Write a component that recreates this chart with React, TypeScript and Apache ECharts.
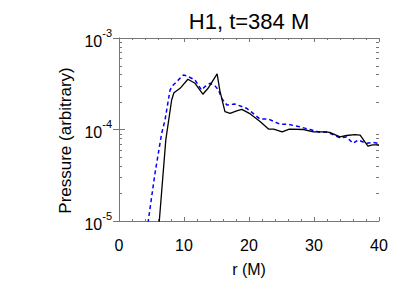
import React, { useEffect, useRef } from "react";
import * as echarts from "echarts";

const titleText = "H1, t=384 M";
const xName = "r (M)";
const yName = "Pressure (arbitrary)";
const xTicks = [0, 10, 20, 30, 40];
const yMinorTicks = [2e-5, 3e-5, 4e-5, 5e-5, 6e-5, 7e-5, 8e-5, 9e-5, 2e-4, 3e-4, 4e-4, 5e-4, 6e-4, 7e-4, 8e-4, 9e-4];

const rBlack = [6.0, 6.2, 7.2, 8.1, 8.45, 9.4, 10.6, 11.7, 12.9, 13.7, 15.1, 15.5, 16.3, 17.1, 18.1, 18.9, 20.2, 21.7, 23.0, 23.8, 25.1, 26.2, 28.4, 29.9, 31.7, 32.4, 34.0, 35.0, 36.3, 37.1, 37.8, 38.3, 39.0, 39.6, 40.0];
const pBlack = [8e-6, 1e-5, 7.7e-5, 2.1e-4, 2.52e-4, 2.82e-4, 3.54e-4, 3.2e-4, 2.43e-4, 2.82e-4, 4.05e-4, 2.7e-4, 1.57e-4, 1.5e-4, 1.6e-4, 1.66e-4, 1.48e-4, 1.22e-4, 1.01e-4, 1.01e-4, 9.4e-5, 1.01e-4, 1.0e-4, 9.4e-5, 9.4e-5, 9.3e-5, 8.3e-5, 8.6e-5, 8.8e-5, 8.7e-5, 7.36e-5, 6.58e-5, 6.8e-5, 6.8e-5, 6.7e-5];

const rBlue = [4.3, 4.5, 5.03, 5.54, 6.05, 6.57, 7.08, 7.85, 8.35, 9.9, 10.4, 11.7, 12.7, 13.2, 14.0, 14.8, 15.3, 15.8, 16.6, 17.8, 19.6, 20.2, 21.7, 23.0, 24.8, 26.0, 27.8, 29.4, 30.9, 32.0, 34.0, 35.0, 36.0, 36.8, 38.1, 39.1, 39.9];
const pBlue = [8e-6, 1e-5, 1.85e-5, 3.32e-5, 5.5e-5, 9.1e-5, 1.27e-4, 2.7e-4, 3.06e-4, 3.94e-4, 3.87e-4, 3.47e-4, 2.7e-4, 2.94e-4, 3.2e-4, 2.98e-4, 2.7e-4, 2.19e-4, 1.85e-4, 1.9e-4, 1.71e-4, 1.59e-4, 1.3e-4, 1.3e-4, 1.14e-4, 1.14e-4, 1.07e-4, 1.0e-4, 9.3e-5, 9.4e-5, 8.1e-5, 8.3e-5, 7.06e-5, 7.67e-5, 7.06e-5, 7.2e-5, 7.06e-5];

const FONT = "'Liberation Sans', Arial, Helvetica, sans-serif";
const AXIS_COLOR = "#777";

export default function App() {
  const ref = useRef<HTMLDivElement>(null);
  useEffect(() => {
    if (!ref.current) return;
    const chart = echarts.init(ref.current, null, { renderer: "svg" });
    const blackData = rBlack.map((r, i) => [r, pBlack[i]]);
    const blueData = rBlue.map((r, i) => [r, pBlue[i]]);
    const commonX = {
      type: "value" as const,
      min: xTicks[0],
      max: xTicks[xTicks.length - 1],
      interval: 10,
      axisLine: { show: true, lineStyle: { color: AXIS_COLOR, width: 1 } },
      axisTick: { show: true, inside: true, length: 4, lineStyle: { color: AXIS_COLOR } },
      minorTick: { show: true, splitNumber: 5, length: 2, lineStyle: { color: AXIS_COLOR } },
      splitLine: { show: false },
      minorSplitLine: { show: false },
    };
    const commonY = {
      type: "log" as const,
      logBase: 10,
      min: 1e-5,
      max: 1e-3,
      axisLine: { show: true, lineStyle: { color: AXIS_COLOR, width: 1 } },
      axisTick: { show: true, inside: true, length: 6, lineStyle: { color: AXIS_COLOR } },
      splitLine: { show: false },
    };
    chart.setOption({
      animation: false,
      backgroundColor: "#fff",
      grid: { left: 119, top: 38, width: 260, height: 183, containLabel: false },
      xAxis: [
        {
          ...commonX,
          position: "bottom",
          name: xName,
          nameLocation: "middle",
          nameGap: 40,
          nameTextStyle: { fontFamily: FONT, fontSize: 16, color: "#000" },
          axisLabel: { show: true, margin: 16, fontFamily: FONT, fontSize: 16, color: "#000" },
        },
        {
          ...commonX,
          position: "top",
          name: titleText,
          nameLocation: "middle",
          nameGap: 6,
          nameTextStyle: { fontFamily: FONT, fontSize: 22, color: "#000" },
          axisLabel: { show: false },
        },
      ],
      yAxis: [
        {
          ...commonY,
          position: "left",
          name: yName,
          nameLocation: "middle",
          nameGap: 39,
          nameRotate: 90,
          nameTextStyle: { fontFamily: FONT, fontSize: 17, color: "#000", padding: [0, 22, 0, 0] },
          axisLabel: {
            show: true,
            margin: 7,
            formatter: (v: number) => "{a|10}{b|" + Math.round(Math.log10(v)) + "}",
            rich: {
              a: { fontFamily: FONT, fontSize: 16, color: "#000", verticalAlign: "bottom", padding: [6, 0, 0, 0] },
              b: { fontFamily: FONT, fontSize: 11, color: "#000", verticalAlign: "top", padding: [0, 0, 8, 0] },
            },
          },
        },
        {
          ...commonY,
          position: "right",
          axisLabel: { show: false },
        },
      ],
      series: [
        {
          type: "custom",
          xAxisIndex: 0,
          yAxisIndex: 0,
          silent: true,
          clip: false,
          data: yMinorTicks.map((v) => [0, v]),
          renderItem: (params: any, api: any) => {
            const cs = params.coordSys;
            const y = Math.round(api.coord([0, api.value(1)])[1]) + 0.5;
            const len = 3;
            return {
              type: "group",
              children: [
                { type: "line", shape: { x1: cs.x, y1: y, x2: cs.x + len, y2: y }, style: { stroke: AXIS_COLOR, lineWidth: 1 } },
                { type: "line", shape: { x1: cs.x + cs.width - len, y1: y, x2: cs.x + cs.width, y2: y }, style: { stroke: AXIS_COLOR, lineWidth: 1 } },
              ],
            };
          },
        },
        {
          type: "line",
          data: blueData,
          showSymbol: false,
          symbol: "none",
          smooth: false,
          lineStyle: { color: "#0000ff", width: 1.5, type: [4, 3] },
          z: 3,
        },
        {
          type: "line",
          data: blackData,
          showSymbol: false,
          symbol: "none",
          smooth: false,
          lineStyle: { color: "#000", width: 1.3 },
          z: 4,
        },
      ],
    });
    return () => chart.dispose();
  }, []);
  return <div ref={ref} style={{ width: 415, height: 297, position: "absolute", left: 0, top: 0 }} />;
}
